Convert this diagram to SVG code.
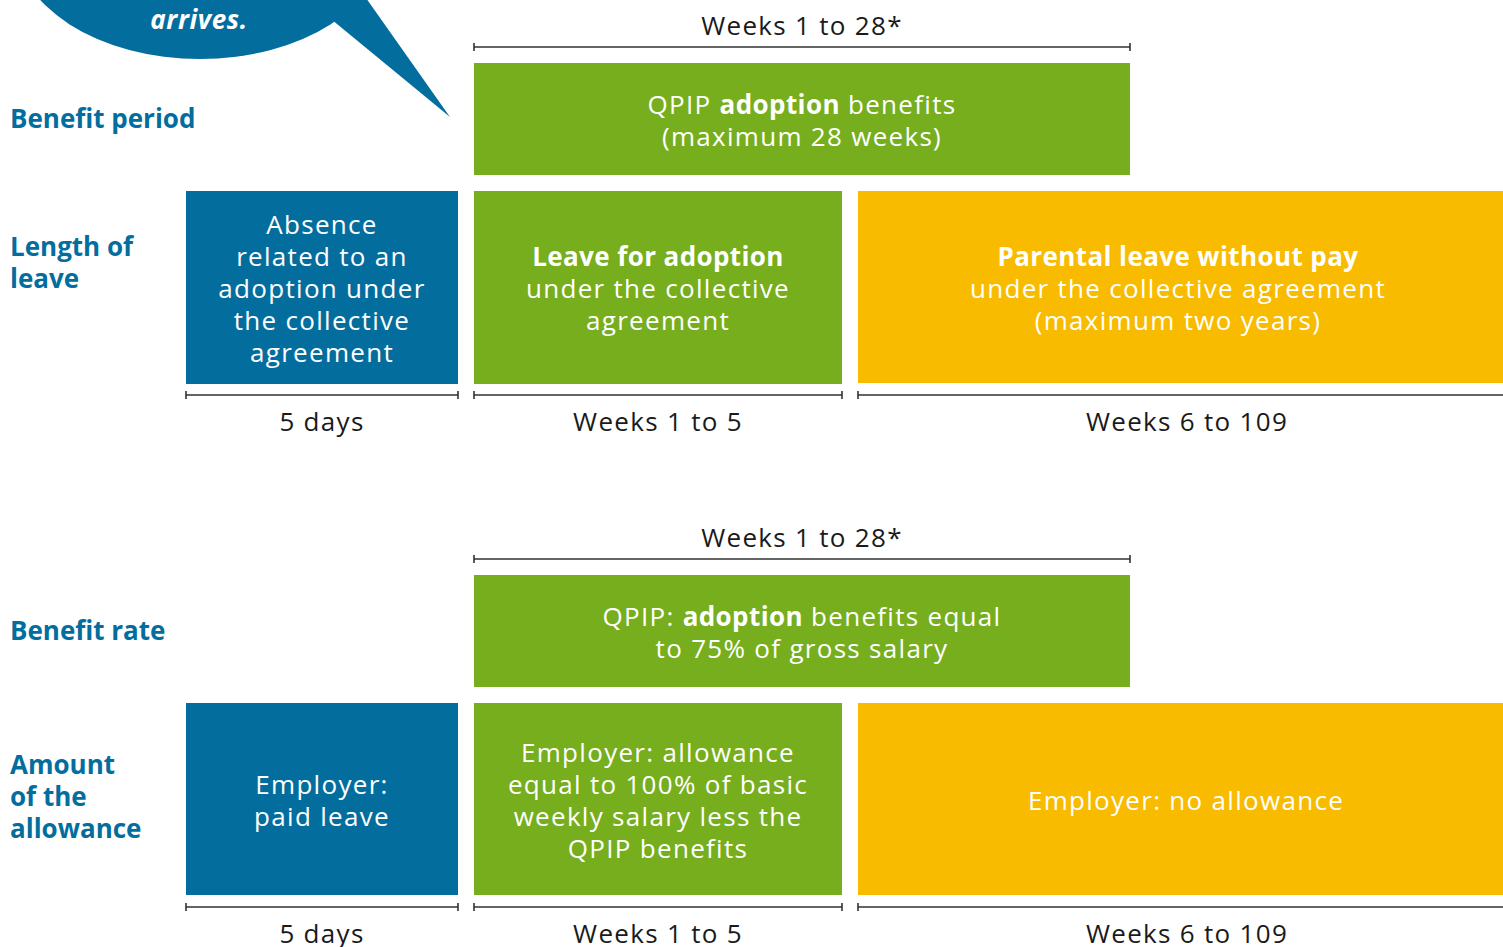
<svg xmlns="http://www.w3.org/2000/svg" width="1503" height="947" viewBox="0 0 1503 947">
  <style>
    .blue { fill: #036e9e; }
    .green { fill: #76ae1e; }
    .yellow { fill: #f9bb00; }
    .lbl { font-family: "Open Sans", "Liberation Sans", sans-serif; font-weight: 700; font-size: 26px; fill: #036e9e; }
    .in { font-family: "Open Sans", "Liberation Sans", sans-serif; font-size: 26px; letter-spacing: 1.3px; fill: #ffffff; text-anchor: middle; }
    .dur { font-family: "Open Sans", "Liberation Sans", sans-serif; font-size: 26px; letter-spacing: 1.3px; fill: #1a1a1a; text-anchor: middle; }
    .b { font-weight: 700; letter-spacing: 0.4px; }
    .bar { stroke: #333333; stroke-width: 1.6; fill: none; }
  </style>

  <!-- speech bubble -->
  <g id="bubble">
    <ellipse class="blue" cx="200" cy="-60" rx="185" ry="119"/>
    <polygon class="blue" points="320,10 450,117 366,-2 330,-2"/>
    <text x="199" y="29" font-family="Open Sans, Liberation Sans, sans-serif" font-size="26" letter-spacing="0.6" font-weight="700" font-style="italic" fill="#ffffff" text-anchor="middle">arrives.</text>
  </g>

  <!-- row labels -->
  <g id="row-labels">
    <text class="lbl" x="10" y="128">Benefit period</text>
    <text class="lbl" x="10" y="256">Length of</text>
    <text class="lbl" x="10" y="288">leave</text>
    <text class="lbl" x="10" y="640">Benefit rate</text>
    <text class="lbl" x="10" y="774">Amount</text>
    <text class="lbl" x="10" y="806">of the</text>
    <text class="lbl" x="10" y="838">allowance</text>
  </g>

  <!-- duration bars -->
  <g id="connectors">
    <path class="bar" d="M474,47 H1130 M474,43 V51 M1130,43 V51"/>
    <path class="bar" d="M186,395 H458 M186,391 V399 M458,391 V399"/>
    <path class="bar" d="M474,395 H842 M474,391 V399 M842,391 V399"/>
    <path class="bar" d="M858,395 H1503 M858,391 V399"/>
    <path class="bar" d="M474,559 H1130 M474,555 V563 M1130,555 V563"/>
    <path class="bar" d="M186,907 H458 M186,903 V911 M458,903 V911"/>
    <path class="bar" d="M474,907 H842 M474,903 V911 M842,903 V911"/>
    <path class="bar" d="M858,907 H1503 M858,903 V911"/>
  </g>

  <!-- duration texts -->
  <g id="durations">
    <text class="dur" x="802" y="35">Weeks 1 to 28*</text>
    <text class="dur" x="322" y="431">5 days</text>
    <text class="dur" x="658" y="431">Weeks 1 to 5</text>
    <text class="dur" x="1187" y="431">Weeks 6 to 109</text>
    <text class="dur" x="802" y="547">Weeks 1 to 28*</text>
    <text class="dur" x="322" y="943">5 days</text>
    <text class="dur" x="658" y="943">Weeks 1 to 5</text>
    <text class="dur" x="1187" y="943">Weeks 6 to 109</text>
  </g>

  <g id="qpip-period">
    <rect class="green" x="474" y="63" width="656" height="112"/>
    <text class="in" x="802" y="114">QPIP <tspan class="b">adoption</tspan> benefits</text>
    <text class="in" x="802" y="146">(maximum 28 weeks)</text>
  </g>

  <g id="absence-leave">
    <rect class="blue" x="186" y="191" width="272" height="193"/>
    <text class="in" x="322" y="234">Absence</text>
    <text class="in" x="322" y="266">related to an</text>
    <text class="in" x="322" y="298">adoption under</text>
    <text class="in" x="322" y="330">the collective</text>
    <text class="in" x="322" y="362">agreement</text>
  </g>

  <g id="adoption-leave">
    <rect class="green" x="474" y="191" width="368" height="193"/>
    <text class="in b" x="658" y="266">Leave for adoption</text>
    <text class="in" x="658" y="298">under the collective</text>
    <text class="in" x="658" y="330">agreement</text>
  </g>

  <g id="parental-leave">
    <rect class="yellow" x="858" y="191" width="645" height="192"/>
    <text class="in b" x="1178" y="266">Parental leave without pay</text>
    <text class="in" x="1178" y="298">under the collective agreement</text>
    <text class="in" x="1178" y="330">(maximum two years)</text>
  </g>

  <g id="qpip-rate">
    <rect class="green" x="474" y="575" width="656" height="112"/>
    <text class="in" x="802" y="626">QPIP: <tspan class="b">adoption</tspan> benefits equal</text>
    <text class="in" x="802" y="658">to 75% of gross salary</text>
  </g>

  <g id="paid-leave">
    <rect class="blue" x="186" y="703" width="272" height="192"/>
    <text class="in" x="322" y="794">Employer:</text>
    <text class="in" x="322" y="826">paid leave</text>
  </g>

  <g id="employer-allowance">
    <rect class="green" x="474" y="703" width="368" height="192"/>
    <text class="in" x="658" y="762">Employer: allowance</text>
    <text class="in" x="658" y="794">equal to 100% of basic</text>
    <text class="in" x="658" y="826">weekly salary less the</text>
    <text class="in" x="658" y="858">QPIP benefits</text>
  </g>

  <g id="no-allowance">
    <rect class="yellow" x="858" y="703" width="645" height="192"/>
    <text class="in" x="1186" y="810">Employer: no allowance</text>
  </g>
</svg>
